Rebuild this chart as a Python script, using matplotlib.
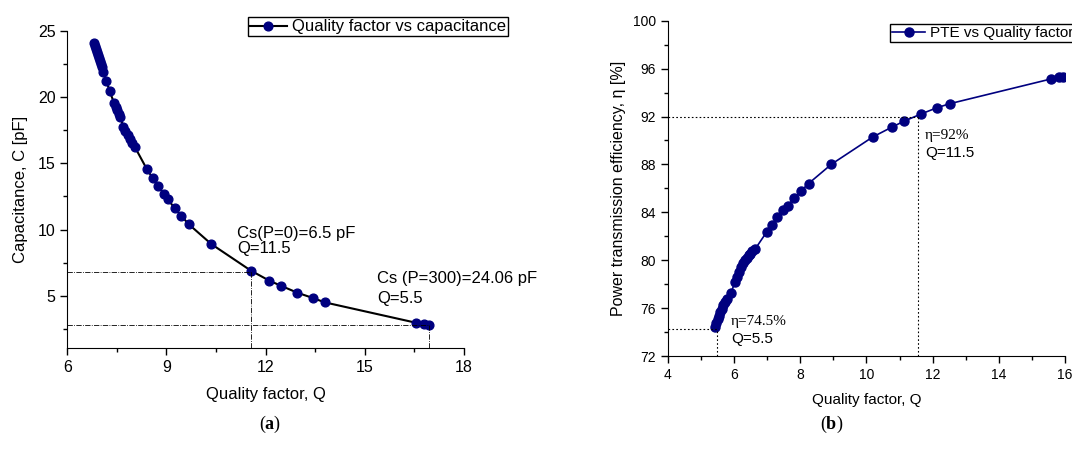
import matplotlib
matplotlib.use("Agg")
import matplotlib.pyplot as plt
from matplotlib.ticker import MultipleLocator

plt.rcParams['font.family'] = ['Liberation Sans', 'DejaVu Sans']
plt.rcParams['mathtext.fontset'] = 'custom'
plt.rcParams['mathtext.bf'] = 'Liberation Serif:bold'
plt.rcParams['mathtext.rm'] = 'Liberation Serif'

# ---- data (a) ----
q_a = [6.80, 6.83, 6.86, 6.89, 6.92, 6.95, 6.98, 7.01, 7.04, 7.08, 7.18, 7.28,
       7.42, 7.46, 7.50, 7.55, 7.60, 7.70, 7.76, 7.83, 7.90, 7.97, 8.05, 8.41,
       8.59, 8.73, 8.92, 9.04, 9.25, 9.45, 9.67, 10.36, 11.56, 12.12, 12.46,
       12.96, 13.43, 13.79, 16.55, 16.79, 16.94]
c_a = [24.07, 23.85, 23.62, 23.40, 23.18, 22.95, 22.72, 22.50, 22.25, 21.93,
       21.24, 20.46, 19.53, 19.28, 19.02, 18.75, 18.47, 17.77, 17.48, 17.15,
       16.85, 16.52, 16.21, 14.55, 13.87, 13.32, 12.70, 12.30, 11.60, 11.04,
       10.41, 8.90, 6.89, 6.13, 5.76, 5.23, 4.83, 4.50, 2.96, 2.86, 2.81]
ref_a_q = [11.56, 16.94]
ref_a_c = [6.77, 2.78]
label_a = "Quality factor vs capacitance"

# ---- data (b) ----
q_b = [5.42, 5.46, 5.50, 5.54, 5.58, 5.62, 5.67, 5.72, 5.77, 5.90, 6.03, 6.08,
       6.14, 6.20, 6.26, 6.32, 6.38, 6.44, 6.49, 6.55, 6.64, 6.99, 7.15, 7.30,
       7.48, 7.62, 7.81, 8.02, 8.25, 8.94, 10.19, 10.76, 11.13, 11.65, 12.13,
       12.52, 15.57, 15.83, 15.95]
eta_b = [74.45, 74.75, 75.05, 75.35, 75.65, 75.95, 76.25, 76.50, 76.75, 77.24,
         78.20, 78.60, 79.00, 79.40, 79.74, 80.00, 80.20, 80.40, 80.55, 80.75,
         80.95, 82.38, 82.94, 83.58, 84.17, 84.55, 85.17, 85.78, 86.40, 88.01,
         90.29, 91.10, 91.60, 92.21, 92.73, 93.07, 95.13, 95.27, 95.32]
ref_b_q = [11.55, 5.47]
ref_b_eta = [92.0, 74.25]
label_b = "PTE vs Quality factor"

navy = '#00007f'

fig = plt.figure(figsize=(10.72, 4.57), dpi=100)

# ================= (a) =================
ax1 = fig.add_axes([0.0628, 0.2385, 0.3698, 0.6937])
l1, = ax1.plot(q_a, c_a, '-', color='black', lw=1.5, marker='o', ms=6.3,
               mfc=navy, mec=navy, label=label_a)
xmin_a, ymin_a = 6, 1.05
for q, c in zip(ref_a_q, ref_a_c):
    ax1.plot([xmin_a, q], [c, c], color='black', lw=0.6, ls='-.')
    ax1.plot([q, q], [ymin_a, c], color='black', lw=0.6, ls='-.')
ax1.set_xlim(6, 18)
ax1.set_ylim(ymin_a, 25)
ax1.xaxis.set_major_locator(MultipleLocator(3))
ax1.xaxis.set_minor_locator(MultipleLocator(1.5))
ax1.yaxis.set_major_locator(MultipleLocator(5))
ax1.yaxis.set_minor_locator(MultipleLocator(2.5))
for s in ['top', 'right']:
    ax1.spines[s].set_visible(False)
ax1.tick_params(which='both', direction='out', labelsize=11.5, width=1)
ax1.tick_params(which='major', length=5)
ax1.tick_params(which='minor', length=3)
ax1.set_xlabel("Quality factor, Q", fontsize=12, labelpad=9)
ax1.set_ylabel("Capacitance, C [pF]", fontsize=12, labelpad=7)
ax1.text(11.13, 9.71, "Cs(P=0)=6.5 pF", fontsize=12, va='center', ha='left')
ax1.text(11.13, 8.55, "Q=11.5", fontsize=12, va='center', ha='left')
ax1.text(15.37, 6.31, "Cs (P=300)=24.06 pF", fontsize=12, va='center', ha='left')
ax1.text(15.37, 4.78, "Q=5.5", fontsize=12, va='center', ha='left')
fig.legend(handles=[l1], loc='upper right', bbox_to_anchor=(0.4735, 0.962),
           fontsize=12, frameon=True, fancybox=False, edgecolor='black',
           framealpha=1, borderpad=0.12, handlelength=2.2, handletextpad=0.3,
           borderaxespad=0)

# ================= (b) =================
ax2 = fig.add_axes([0.6231, 0.2210, 0.3703, 0.7337])
l2, = ax2.plot(q_b, eta_b, '-', color=navy, lw=1.2, marker='o', ms=6.5,
               mfc=navy, mec=navy, label=label_b)
xmin_b, ymin_b = 4, 72
for q, e in zip(ref_b_q, ref_b_eta):
    ax2.plot([xmin_b, q], [e, e], color='black', lw=0.8, ls=(0, (1.5, 2)))
    ax2.plot([q, q], [ymin_b, e], color='black', lw=0.8, ls=(0, (1.5, 2)))
ax2.set_xlim(4, 16)
ax2.set_ylim(72, 100)
ax2.xaxis.set_major_locator(MultipleLocator(2))
ax2.xaxis.set_minor_locator(MultipleLocator(1))
ax2.yaxis.set_major_locator(MultipleLocator(4))
ax2.yaxis.set_minor_locator(MultipleLocator(2))
for s in ['top', 'right']:
    ax2.spines[s].set_visible(False)
ax2.tick_params(which='both', direction='out', labelsize=10, width=1)
ax2.tick_params(which='major', length=5)
ax2.tick_params(which='minor', length=3)
ax2.set_xlabel("Quality factor, Q", fontsize=11, labelpad=8)
ax2.set_ylabel("Power transmission efficiency, η [%]", fontsize=11.5, labelpad=5)
ax2.text(11.77, 90.45, "η=92%", fontsize=11, va='center', ha='left',
         family=['Liberation Serif', 'DejaVu Serif'])
ax2.text(11.77, 88.92, "Q=11.5", fontsize=11, va='center', ha='left')
ax2.text(5.90, 74.86, "η=74.5%", fontsize=11, va='center', ha='left',
         family=['Liberation Serif', 'DejaVu Serif'])
ax2.text(5.90, 73.39, "Q=5.5", fontsize=11, va='center', ha='left')
fig.legend(handles=[l2], loc='upper right', bbox_to_anchor=(1.003, 0.947),
           fontsize=11, frameon=True, fancybox=False, edgecolor='black',
           framealpha=1, borderpad=0.12, handlelength=2.2, handletextpad=0.3,
           borderaxespad=0)

# subplot labels
fig.text(0.252, 0.072, r"($\mathbf{a}$)", fontsize=13, ha='center', va='center',
         family=['Liberation Serif', 'DejaVu Serif'])
fig.text(0.776, 0.072, r"($\mathbf{b}$)", fontsize=13, ha='center', va='center',
         family=['Liberation Serif', 'DejaVu Serif'])

fig.savefig("out.png", dpi=100)
